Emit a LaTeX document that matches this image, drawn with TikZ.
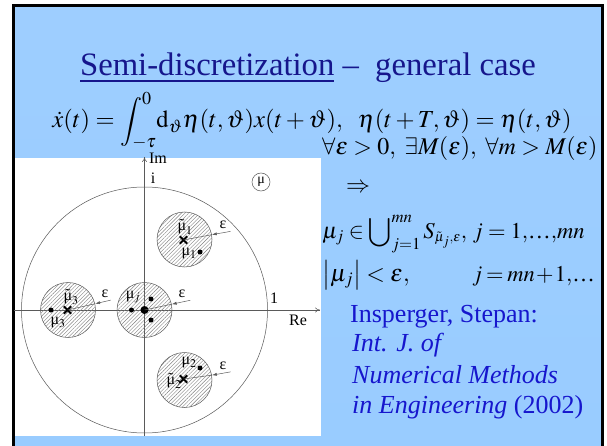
\documentclass[tikz,border=0pt]{standalone}
\usepackage{mathptmx}
\usepackage[no-math]{fontspec}
\setmainfont{Liberation Serif}
\usetikzlibrary{arrows.meta,patterns.meta,calc,shapes.misc}
\definecolor{bgtop}{RGB}{158,206,255}
\definecolor{bgmid}{RGB}{234,244,255}
\definecolor{bgbot}{RGB}{153,204,255}
\definecolor{titleblue}{RGB}{22,22,140}
\definecolor{refblue}{RGB}{22,22,205}
\definecolor{plotline}{RGB}{90,90,90}
\newcommand\tmu{\ensuremath{\tilde{\hbox{μ}}}}
\newcommand\myell{\hbox{…}}
\begin{document}
\begin{tikzpicture}[x=1pt,y=-1pt,
  pl/.style={draw=plotline,line width=0.5pt},
  zone/.style={circle,draw=plotline,line width=0.5pt,minimum size=55pt,inner sep=0pt,
    pattern={Lines[angle=45,distance=2.6pt,line width=0.4pt]},pattern color=gray},
  lab/.style={font=\fontsize{16}{16}\selectfont,inner sep=0pt},
  dotn/.style={circle,fill=black,inner sep=0pt,minimum size=5pt},
  bigdot/.style={circle,fill=black,inner sep=0pt,minimum size=8pt},
  crossn/.style={cross out,draw=black,line width=1.9pt,minimum size=5.5pt,inner sep=0pt},
  epsarrow/.style={pl,-{Latex[length=5pt,width=3pt]}},
  mathtext/.style={font=\fontsize{24}{26}\selectfont,inner sep=0pt},
  bluetext/.style={font=\fontsize{26}{28}\selectfont,text=refblue,inner sep=0pt,anchor=base west}
]
\useasboundingbox (0,0) rectangle (607,446);
\fill[white] (0,0) rectangle (607,446);
\shade[top color=bgtop,middle color=bgmid,bottom color=bgbot] (13,6) rectangle (602,447);
\draw[line width=3pt,line cap=rect] (13,448) -- (13,6) -- (602,6) -- (602,448);
\fill[white] (14.5,158) rectangle (321,436);

% title and equation
\node[anchor=base,font=\fontsize{32.7}{34}\selectfont,text=titleblue,inner sep=0pt] (title) at (308,76)
  {\underline{Semi-discretization} –\ \ general case};
\node[anchor=base,font=\fontsize{24.5}{26}\selectfont,inner sep=0pt] (eq) at (312,128)
  {$\displaystyle\dot x(t)=\int_{-\tau}^{0}\!\mathrm{d}_{\vartheta}\eta(t,\vartheta)x(t+\vartheta),\ \ \eta(t+T,\vartheta)=\eta(t,\vartheta)$};

% plot
\coordinate (reL) at (14,310);
\coordinate (reR) at (320,310);
\coordinate (imB) at (144.5,436);
\coordinate (imT) at (144.5,157);
\draw[pl,-{To[length=5pt,width=5pt]}] (reL) -- (reR);
\draw[pl,-{To[length=5pt,width=5pt]}] (imB) -- (imT);
\node[circle,pl,minimum size=246pt,inner sep=0pt] (unit) at (144.5,310) {};

\node[zone] (z1) at (184.5,239.5) {};
\node[zone] (z2) at (184.5,380) {};
\node[zone] (z3) at (68,310) {};
\node[zone] (zj) at (144.5,310) {};

\node[crossn] (x1) at (183.5,240) {};
\node[crossn] (x2) at (183.5,379) {};
\node[crossn] (x3) at (67.5,310) {};
\node[dotn] (d1) at (200,252) {};
\node[dotn] (d2) at (200,368) {};
\node[dotn] (d3) at (51,310) {};
\node[bigdot] (dj) at (144.5,310) {};
\node[dotn] (dja) at (131.5,310) {};
\node[dotn] (djb) at (151,299) {};
\node[dotn] (djc) at (151,320) {};

% epsilon radii
\coordinate (e1) at ($(z1.10)+(-10:19)$);
\coordinate (e2) at ($(z2.10)+(-10:19)$);
\coordinate (e3) at ($(z3.13)+(-13:16)$);
\coordinate (ej) at ($(zj.12)+(-12:19)$);
\draw[pl] (x1.center) -- (z1.10);
\draw[pl] (x2.center) -- (z2.10);
\draw[pl] (x3.center) -- (z3.13);
\draw[pl] (dj.center) -- (zj.12);
\draw[epsarrow] (e1) -- (z1.10);
\draw[epsarrow] (e2) -- (z2.10);
\draw[epsarrow] (e3) -- (z3.13);
\draw[epsarrow] (ej) -- (zj.12);
\node[lab] (le1) at (223,225) {ε};
\node[lab] (le2) at (223,366) {ε};
\node[lab] (le3) at (105,294) {ε};
\node[lab] (lej) at (182,294) {ε};

% labels
\node[lab] (lIm) at (158,158) {Im};
\node[lab] (li) at (153,178) {i};
\node[lab] (lone) at (274,298) {1};
\node[lab] (lRe) at (298,320) {Re};
\node[circle,pl,minimum size=18pt,inner sep=0pt,font=\fontsize{14}{14}\selectfont] (lmu) at (261,182) {μ};
\node[lab] (lt1) at (185,227) {$\tmu_1$};
\node[lab] (lm1) at (189,254) {μ$_1$};
\node[lab] (lt3) at (71,297) {$\tmu_3$};
\node[lab] (lm3) at (58,323) {μ$_3$};
\node[lab] (lmj) at (133,297) {μ$_j$};
\node[lab] (lm2) at (189,363) {μ$_2$};
\node[lab] (lt2) at (174,381) {$\tmu_2$};

% right-hand statements
\node[mathtext,anchor=base west] (q1) at (322,155) {$\forall\varepsilon>0,\ \exists M(\varepsilon),\ \forall m>M(\varepsilon)$};
\node[mathtext,anchor=west] (q2) at (346,188) {$\Rightarrow$};
\node[mathtext,font=\fontsize{22.6}{26}\selectfont,anchor=base west] (q3) at (322,238)
  {$\thickmuskip=4mu\displaystyle\mu_j\in\bigcup\nolimits_{j=1}^{mn}S_{\scriptscriptstyle\tilde\mu_j,\varepsilon}{,}\ j=1{,}\myell{,}mn$};
\node[mathtext,anchor=base west] (q4) at (322,281) {$\left|\mu_j\right|<\varepsilon,$};
\node[mathtext,font=\fontsize{22.5}{26}\selectfont,anchor=base west] (q5) at (472,281) {$\thickmuskip=3mu\medmuskip=1mu j=mn+1{,}\myell$};

\node[bluetext] (r1) at (350,322) {Insperger, Stepan:};
\node[bluetext] (r2) at (352,351) {\itshape Int. J. of};
\node[bluetext] (r3) at (352,383) {\itshape Numerical Methods};
\node[bluetext] (r4) at (352,413) {\itshape in Engineering\/ \upshape(2002)};
\end{tikzpicture}
\end{document}
